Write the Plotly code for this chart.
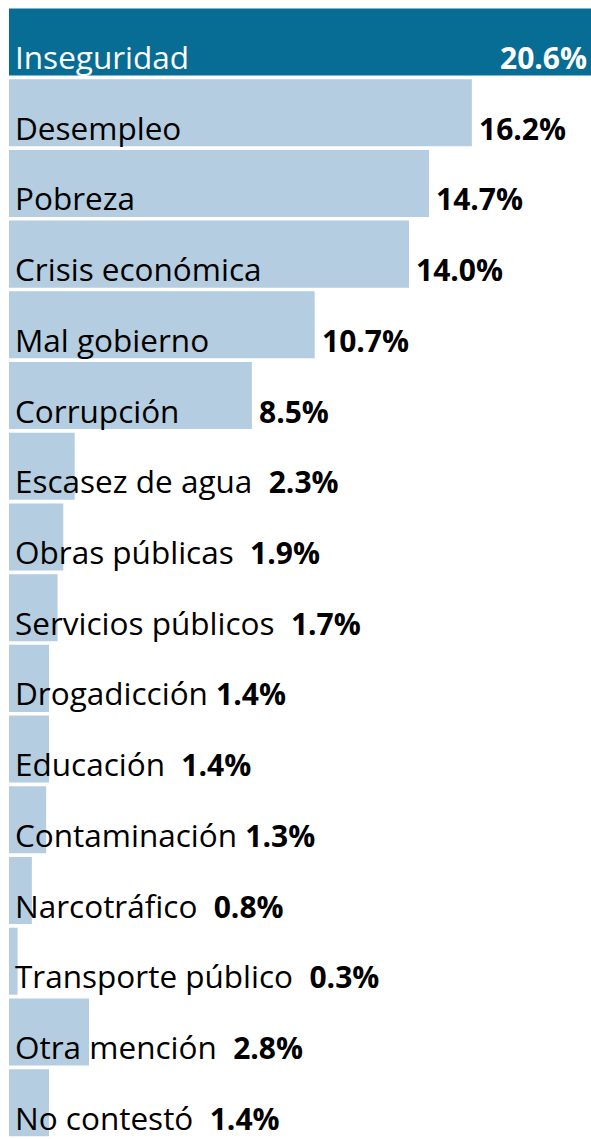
import plotly.graph_objects as go

categories = ["Inseguridad", "Desempleo", "Pobreza", "Crisis económica", "Mal gobierno",
              "Corrupción", "Escasez de agua", "Obras públicas", "Servicios públicos",
              "Drogadicción", "Educación", "Contaminación", "Narcotráfico",
              "Transporte público", "Otra mención", "No contestó"]
values = [20.6, 16.2, 14.7, 14.0, 10.7, 8.5, 2.3, 1.9, 1.7, 1.4, 1.4, 1.3, 0.8, 0.3, 2.8, 1.4]

# number of spaces between label and value when value follows the label text
label_gap = {"Drogadicción": 1, "Contaminación": 1}

DARK = "#076d94"
LIGHT = "#b5cde0"
FONT = "Open Sans"
FS = 31.5      # category label size
VFS = 30       # value size
YS = -38

colors = [DARK if i == 0 else LIGHT for i in range(len(values))]

fig = go.Figure()
fig.add_trace(go.Bar(
    x=values, y=categories, orientation="h",
    marker=dict(color=colors, line=dict(width=0)),
    hoverinfo="skip",
))

annotations = []
NB = "\u00a0"
for i, (c, v) in enumerate(zip(categories, values)):
    vtxt = f"{v:.1f}%"
    if i == 0:
        annotations.append(dict(x=0, y=c, xref="x", yref="y", text=c, showarrow=False,
                                xanchor="left", yanchor="bottom", xshift=4, yshift=YS,
                                font=dict(family=FONT, size=FS, color="white")))
        annotations.append(dict(x=1, y=c, xref="paper", yref="y", text=f"<b>{vtxt}</b>",
                                showarrow=False, xanchor="right", yanchor="bottom",
                                xshift=-2, yshift=YS,
                                font=dict(family=FONT, size=VFS, color="white")))
    elif v >= 5:
        annotations.append(dict(x=0, y=c, xref="x", yref="y", text=c, showarrow=False,
                                xanchor="left", yanchor="bottom", xshift=4, yshift=YS,
                                font=dict(family=FONT, size=FS, color="black")))
        annotations.append(dict(x=v, y=c, xref="x", yref="y", text=f"<b>{vtxt}</b>",
                                showarrow=False, xanchor="left", yanchor="bottom",
                                xshift=5, yshift=YS,
                                font=dict(family=FONT, size=VFS, color="black")))
    else:
        gap = NB * label_gap.get(c, 2)
        annotations.append(dict(x=0, y=c, xref="x", yref="y",
                                text=f"{c}{gap}<span style='font-size:{VFS}px'><b>{vtxt}</b></span>",
                                showarrow=False,
                                xanchor="left", yanchor="bottom", xshift=4, yshift=YS,
                                font=dict(family=FONT, size=FS, color="black")))

fig.update_layout(
    width=591, height=1139,
    margin=dict(l=9, r=0, t=4, b=1),
    paper_bgcolor="white", plot_bgcolor="white",
    bargap=0.052,
    showlegend=False,
    xaxis=dict(range=[0, 20.37], visible=False, fixedrange=True),
    yaxis=dict(autorange="reversed", visible=False, fixedrange=True),
    annotations=annotations,
)

fig.write_html(
    "out.html",
    post_script=("document.body.style.margin='0';"
                 "document.body.style.overflow='hidden';"
                 "document.documentElement.style.overflow='hidden';"),
    config={"displayModeBar": False},
)
